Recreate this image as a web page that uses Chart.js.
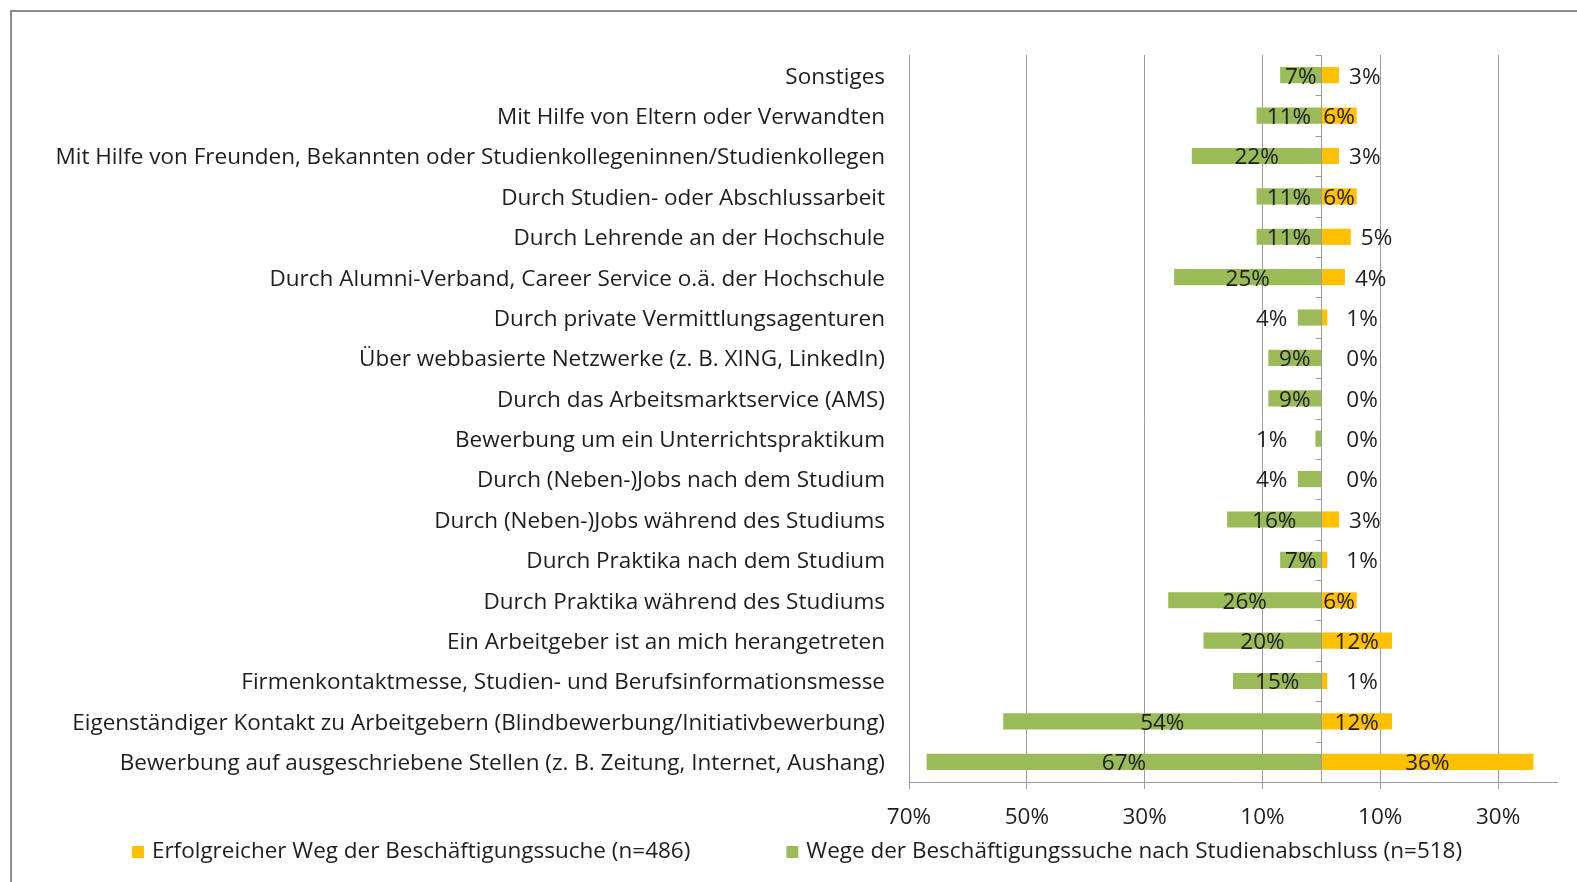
<!DOCTYPE html>
<html>
<head>
<meta charset="utf-8">
<script src="https://cdn.jsdelivr.net/npm/chart.js@4.4.0/dist/chart.umd.min.js"></script>
<style>
html, body { margin: 0; padding: 0; background: #fff; }
#wrap { position: relative; width: 1577px; height: 882px; }
</style>
</head>
<body>
<div id="wrap"><canvas id="myChart" width="1577" height="882"></canvas></div>
<script>
const categories = [
    'Sonstiges',
    'Mit Hilfe von Eltern oder Verwandten',
    'Mit Hilfe von Freunden, Bekannten oder Studienkollegeninnen/Studienkollegen',
    'Durch Studien- oder Abschlussarbeit',
    'Durch Lehrende an der Hochschule',
    'Durch Alumni-Verband, Career Service o.ä. der Hochschule',
    'Durch private Vermittlungsagenturen',
    'Über webbasierte Netzwerke (z. B. XING, LinkedIn)',
    'Durch das Arbeitsmarktservice (AMS)',
    'Bewerbung um ein Unterrichtspraktikum',
    'Durch (Neben-)Jobs nach dem Studium',
    'Durch (Neben-)Jobs während des Studiums',
    'Durch Praktika nach dem Studium',
    'Durch Praktika während des Studiums',
    'Ein Arbeitgeber ist an mich herangetreten',
    'Firmenkontaktmesse, Studien- und Berufsinformationsmesse',
    'Eigenständiger Kontakt zu Arbeitgebern (Blindbewerbung/Initiativbewerbung)',
    'Bewerbung auf ausgeschriebene Stellen (z. B. Zeitung, Internet, Aushang)'
];

// Wege der Beschäftigungssuche (green, drawn to the left)
const searchWays = [7, 11, 22, 11, 11, 25, 4, 9, 9, 1, 4, 16, 7, 26, 20, 15, 54, 67];
// Erfolgreicher Weg (yellow, drawn to the right)
const successWays = [3, 6, 3, 6, 5, 4, 1, 0, 0, 0, 0, 3, 1, 6, 12, 1, 12, 36];

const xTicks = [-70, -50, -30, -10, 10, 30];

const successName = 'Erfolgreicher Weg der Beschäftigungssuche (n=486)';
const searchName = 'Wege der Beschäftigungssuche nach Studienabschluss (n=518)';

const GREEN = '#9bbb59';
const YELLOW = '#ffc000';
const GRIDC = '#9c9c9c';
const TEXTC = '#1e1e1e';
const FONT = 'Open Sans';
const FSIZE = 22.5;

const frame = {
    id: 'frame',
    beforeDraw(chart){
        const ctx = chart.ctx;
        ctx.save();
        ctx.strokeStyle = '#8c8c8c';
        ctx.lineWidth = 2;
        ctx.beginPath();
        ctx.moveTo(11, 882);
        ctx.lineTo(11, 11);
        ctx.lineTo(1577, 11);
        ctx.stroke();
        ctx.restore();
    }
};

// vertical axis sits at 0 like in Excel
const zeroAxis = {
    id: 'zeroAxis',
    afterDatasetsDraw(chart){
        const { ctx, chartArea: {top, bottom}, scales: {x} } = chart;
        const x0 = Math.round(x.getPixelForValue(0)) + 0.5;
        const n = categories.length;
        ctx.save();
        ctx.strokeStyle = GRIDC;
        ctx.lineWidth = 1;
        ctx.beginPath();
        ctx.moveTo(x0, top);
        ctx.lineTo(x0, bottom);
        for(let i = 0; i < n; i++){
            const y = Math.round(top + (bottom - top) / n * i) + 0.5;
            ctx.moveTo(x0 - 6, y);
            ctx.lineTo(x0, y);
        }
        ctx.stroke();
        ctx.restore();
    }
};

const valueLabels = {
    id: 'valueLabels',
    afterDatasetsDraw(chart){
        const ctx = chart.ctx;
        const x0 = chart.scales.x.getPixelForValue(0);
        ctx.save();
        ctx.font = FSIZE + 'px "' + FONT + '"';
        ctx.fillStyle = TEXTC;
        ctx.textBaseline = 'middle';

        chart.getDatasetMeta(1).data.forEach((bar, i) => {
            const v = searchWays[i];
            const y = bar.y + 2;
            if(v >= 5){
                ctx.textAlign = 'center';
                ctx.fillText(v + '%', (bar.x + bar.base) / 2, y);
            }
            else{
                ctx.textAlign = 'right';
                ctx.fillText(v + '%', x0 - 34, y);
            }
        });

        chart.getDatasetMeta(0).data.forEach((bar, i) => {
            const v = successWays[i];
            const y = bar.y + 2;
            if(v >= 6){
                ctx.textAlign = 'center';
                ctx.fillText(v + '%', (bar.x + bar.base) / 2, y);
            }
            else{
                ctx.textAlign = 'left';
                ctx.fillText(v + '%', Math.max(x0 + 25, bar.x + 10), y);
            }
        });
        ctx.restore();
    }
};

const bottomLegend = {
    id: 'bottomLegend',
    afterDraw(chart){
        const ctx = chart.ctx;
        ctx.save();
        ctx.font = FSIZE + 'px "' + FONT + '"';
        ctx.textBaseline = 'middle';
        ctx.textAlign = 'left';
        const items = [
            { text: successName, color: YELLOW },
            { text: searchName, color: GREEN },
        ];
        const box = 12, gap = 8, between = 96, y = 852;
        let total = between;
        items.forEach(it => { it.w = ctx.measureText(it.text).width; total += box + gap + it.w; });
        let x = 797 - total / 2;
        items.forEach(it => {
            ctx.fillStyle = it.color;
            ctx.fillRect(x, y - box / 2, box, box);
            ctx.fillStyle = TEXTC;
            ctx.fillText(it.text, x + box + gap, y);
            x += box + gap + it.w + between;
        });
        ctx.restore();
    }
};

const data = {
    labels: categories,
    datasets: [
        {
            label: successName,
            data: successWays,
            backgroundColor: YELLOW,
            barPercentage: 0.4,
            categoryPercentage: 1,
        },
        {
            label: searchName,
            data: searchWays.map(v => -v),
            backgroundColor: GREEN,
            barPercentage: 0.4,
            categoryPercentage: 1,
        },
    ],
};

const options = {
    indexAxis: 'y',
    responsive: false,
    animation: false,
    layout: {
        padding: { top: 55, right: 20, left: 0, bottom: 0 }
    },
    plugins: {
        legend: { display: false },
        tooltip: { enabled: false },
    },
    scales: {
        x: {
            stacked: true,
            min: -70,
            max: 40,
            afterBuildTicks: (scale) => { scale.ticks = xTicks.map(v => ({ value: v })); },
            afterFit: (scale) => { scale.height = 100; },
            grid: { color: GRIDC, lineWidth: 1, tickLength: 7 },
            border: { color: GRIDC },
            ticks: {
                callback: (v) => Math.abs(v) + '%',
                font: { family: FONT, size: FSIZE },
                color: TEXTC,
                padding: 15,
                autoSkip: false,
                maxRotation: 0,
            },
        },
        y: {
            stacked: true,
            afterFit: (scale) => { scale.width = 909; },
            grid: { display: false },
            border: { display: false },
            ticks: {
                font: { family: FONT, size: FSIZE },
                color: TEXTC,
                padding: 16,
                labelOffset: 2,
                autoSkip: false,
            },
        },
    },
};

const chart = new Chart(document.getElementById('myChart'), {
    type: 'bar',
    data: data,
    options: options,
    plugins: [frame, zeroAxis, valueLabels, bottomLegend],
});
</script>
</body>
</html>
